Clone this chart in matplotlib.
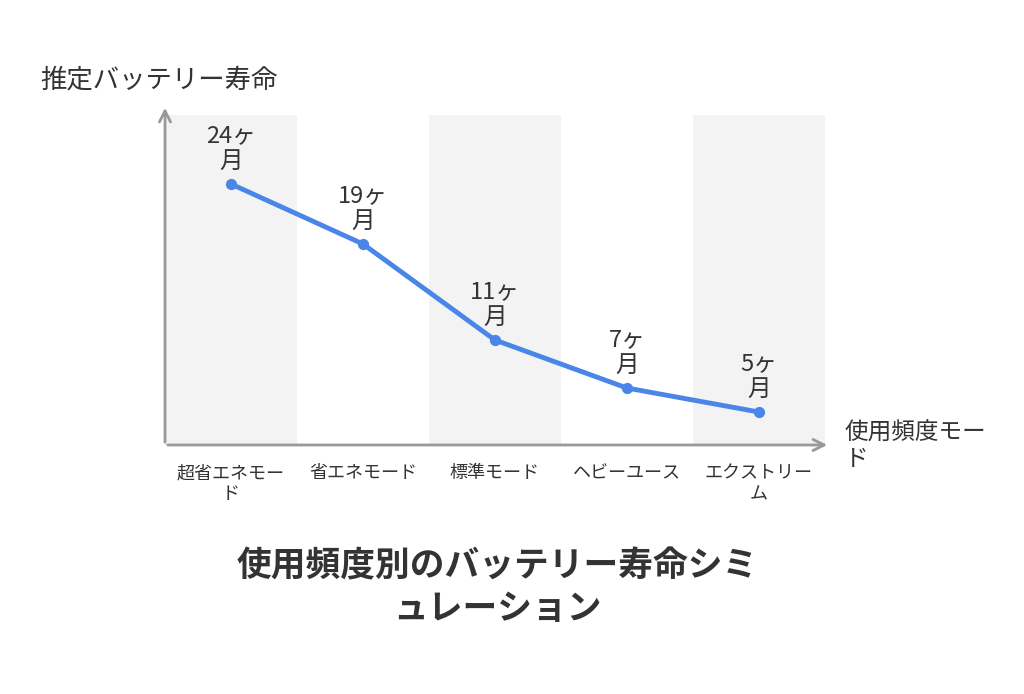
import matplotlib
matplotlib.use("Agg")
import matplotlib.pyplot as plt
from matplotlib.patches import Rectangle

plt.rcParams['font.family'] = ['Noto Sans CJK JP', 'DejaVu Sans']

categories = ["超省エネモー\nド", "省エネモード", "標準モード", "ヘビーユース", "エクストリー\nム"]
months = [24, 19, 11, 7, 5]
labels = ["24ヶ\n月", "19ヶ\n月", "11ヶ\n月", "7ヶ\n月", "5ヶ\n月"]

W, H = 1024, 694
fig = plt.figure(figsize=(W/100, H/100), dpi=100)
ax = fig.add_axes([165/W, (H-445)/H, (830-165)/W, (445-105)/H])
ax.set_xlim(-0.5, 4.54)
ax.set_ylim(2.25, 30.58)
for i in range(len(categories)):
    if i % 2 == 0:
        ax.add_patch(Rectangle((i-0.5, 2.25), 1, 29.75-2.25, color="#f3f3f3", lw=0, zorder=0))
x = list(range(len(categories)))
ax.plot(x, months, color="#4a86e8", lw=3.5, zorder=3)
ax.scatter(x, months, color="#4a86e8", s=50, zorder=4)
for xi, v, l in zip(x, months, labels):
    ax.annotate(l, (xi, v), xytext=(0, 8), textcoords="offset points",
                ha="center", va="bottom", fontsize=17, color="#333333", linespacing=1.15)
for s in ax.spines.values():
    s.set_visible(False)
ax.set_xticks(x)
ax.set_xticklabels(categories, fontsize=13, color="#333333", linespacing=1.2)
ax.tick_params(axis="x", length=0, pad=14)
ax.set_yticks([])
ax.annotate("", xy=(1.0, 0), xytext=(0, 0), xycoords="axes fraction",
            arrowprops=dict(arrowstyle="->", color="#999999", lw=2, mutation_scale=20))
ax.annotate("", xy=(0, 1.0), xytext=(0, 0), xycoords="axes fraction",
            arrowprops=dict(arrowstyle="->", color="#999999", lw=2, mutation_scale=20))
fig.text(40/W, 1-80/H, "推定バッテリー寿命", fontsize=19, color="#333333", va="center", ha="left")
fig.text(845/W, 1-446/H, "使用頻度モー\nド", fontsize=17, color="#333333", va="center", ha="left", linespacing=1.2)
fig.text(497/W, 1-587/H, "使用頻度別のバッテリー寿命シミ\nュレーション", fontsize=25, fontweight="bold",
         color="#333333", ha="center", va="center", linespacing=1.25)
fig.savefig("out.png", dpi=100)
